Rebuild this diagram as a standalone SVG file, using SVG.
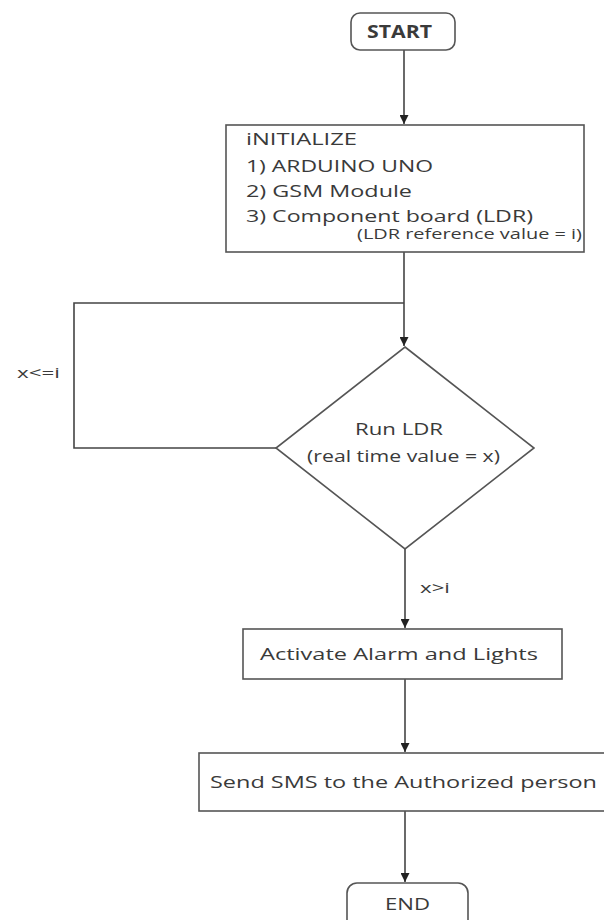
<svg xmlns="http://www.w3.org/2000/svg" width="604" height="920" viewBox="0 0 604 920">
<defs>
<style>
.box{fill:#fff;stroke:#555;stroke-width:1.6}
.ln{fill:none;stroke:#444;stroke-width:1.6}
.t{font-family:"Open Sans",Lato,"Liberation Sans",sans-serif;fill:#3a3a3a;font-size:17px}
.s{font-size:14px}
.m{text-anchor:middle}
</style>
<marker id="ah" viewBox="0 0 10 10" refX="10" refY="5" markerWidth="10" markerHeight="9" markerUnits="userSpaceOnUse" orient="auto">
<path d="M0,0 L10,5 L0,10 Z" fill="#222"/>
</marker>
</defs>
<rect width="604" height="920" fill="#fff"/>
<g id="connectors">
<line class="ln" x1="404" y1="50" x2="404" y2="124" marker-end="url(#ah)"/>
<line class="ln" x1="404" y1="252" x2="404" y2="346" marker-end="url(#ah)"/>
<polyline class="ln" points="276,448 74,448 74,303 404,303"/>
<line class="ln" x1="405" y1="549" x2="405" y2="628" marker-end="url(#ah)"/>
<line class="ln" x1="405" y1="679" x2="405" y2="752" marker-end="url(#ah)"/>
<line class="ln" x1="405" y1="811" x2="405" y2="882" marker-end="url(#ah)"/>
<text class="t s" x="17" y="378" textLength="43" lengthAdjust="spacingAndGlyphs">x&lt;=i</text>
<text class="t s" x="420" y="593" textLength="30" lengthAdjust="spacingAndGlyphs">x&gt;i</text>
</g>
<g id="start">
<rect class="box" x="351" y="13" width="104" height="37" rx="9"/>
<text class="t" x="367" y="38" font-weight="bold" font-size="15" textLength="65" lengthAdjust="spacingAndGlyphs">START</text>
</g>
<g id="initialize">
<rect class="box" x="226" y="125" width="358" height="127"/>
<text class="t" x="246" y="145" textLength="111" lengthAdjust="spacingAndGlyphs">iNITIALIZE</text>
<text class="t" x="246" y="172" textLength="187" lengthAdjust="spacingAndGlyphs">1) ARDUINO UNO</text>
<text class="t" x="246" y="197" textLength="166" lengthAdjust="spacingAndGlyphs">2) GSM Module</text>
<text class="t" x="246" y="222" textLength="287" lengthAdjust="spacingAndGlyphs">3) Component board (LDR)</text>
<text class="t s" x="357" y="239" textLength="225" lengthAdjust="spacingAndGlyphs">(LDR reference value = i)</text>
</g>
<g id="run-ldr">
<polygon class="box" points="405,347 534,448 405,549 276,448"/>
<text class="t" x="355" y="435" textLength="88" lengthAdjust="spacingAndGlyphs">Run LDR</text>
<text class="t" x="307" y="462" font-size="15" textLength="193" lengthAdjust="spacingAndGlyphs">(real time value = x)</text>
</g>
<g id="activate">
<rect class="box" x="243" y="629" width="319" height="50"/>
<text class="t" x="260" y="660" textLength="278" lengthAdjust="spacingAndGlyphs">Activate Alarm and Lights</text>
</g>
<g id="send-sms">
<rect class="box" x="199" y="753" width="412" height="58"/>
<text class="t" x="210" y="788" textLength="387" lengthAdjust="spacingAndGlyphs">Send SMS to the Authorized person</text>
</g>
<g id="end">
<rect class="box" x="347" y="883" width="121" height="48" rx="10"/>
<text class="t" x="385" y="910" textLength="45" lengthAdjust="spacingAndGlyphs">END</text>
</g>
</svg>
